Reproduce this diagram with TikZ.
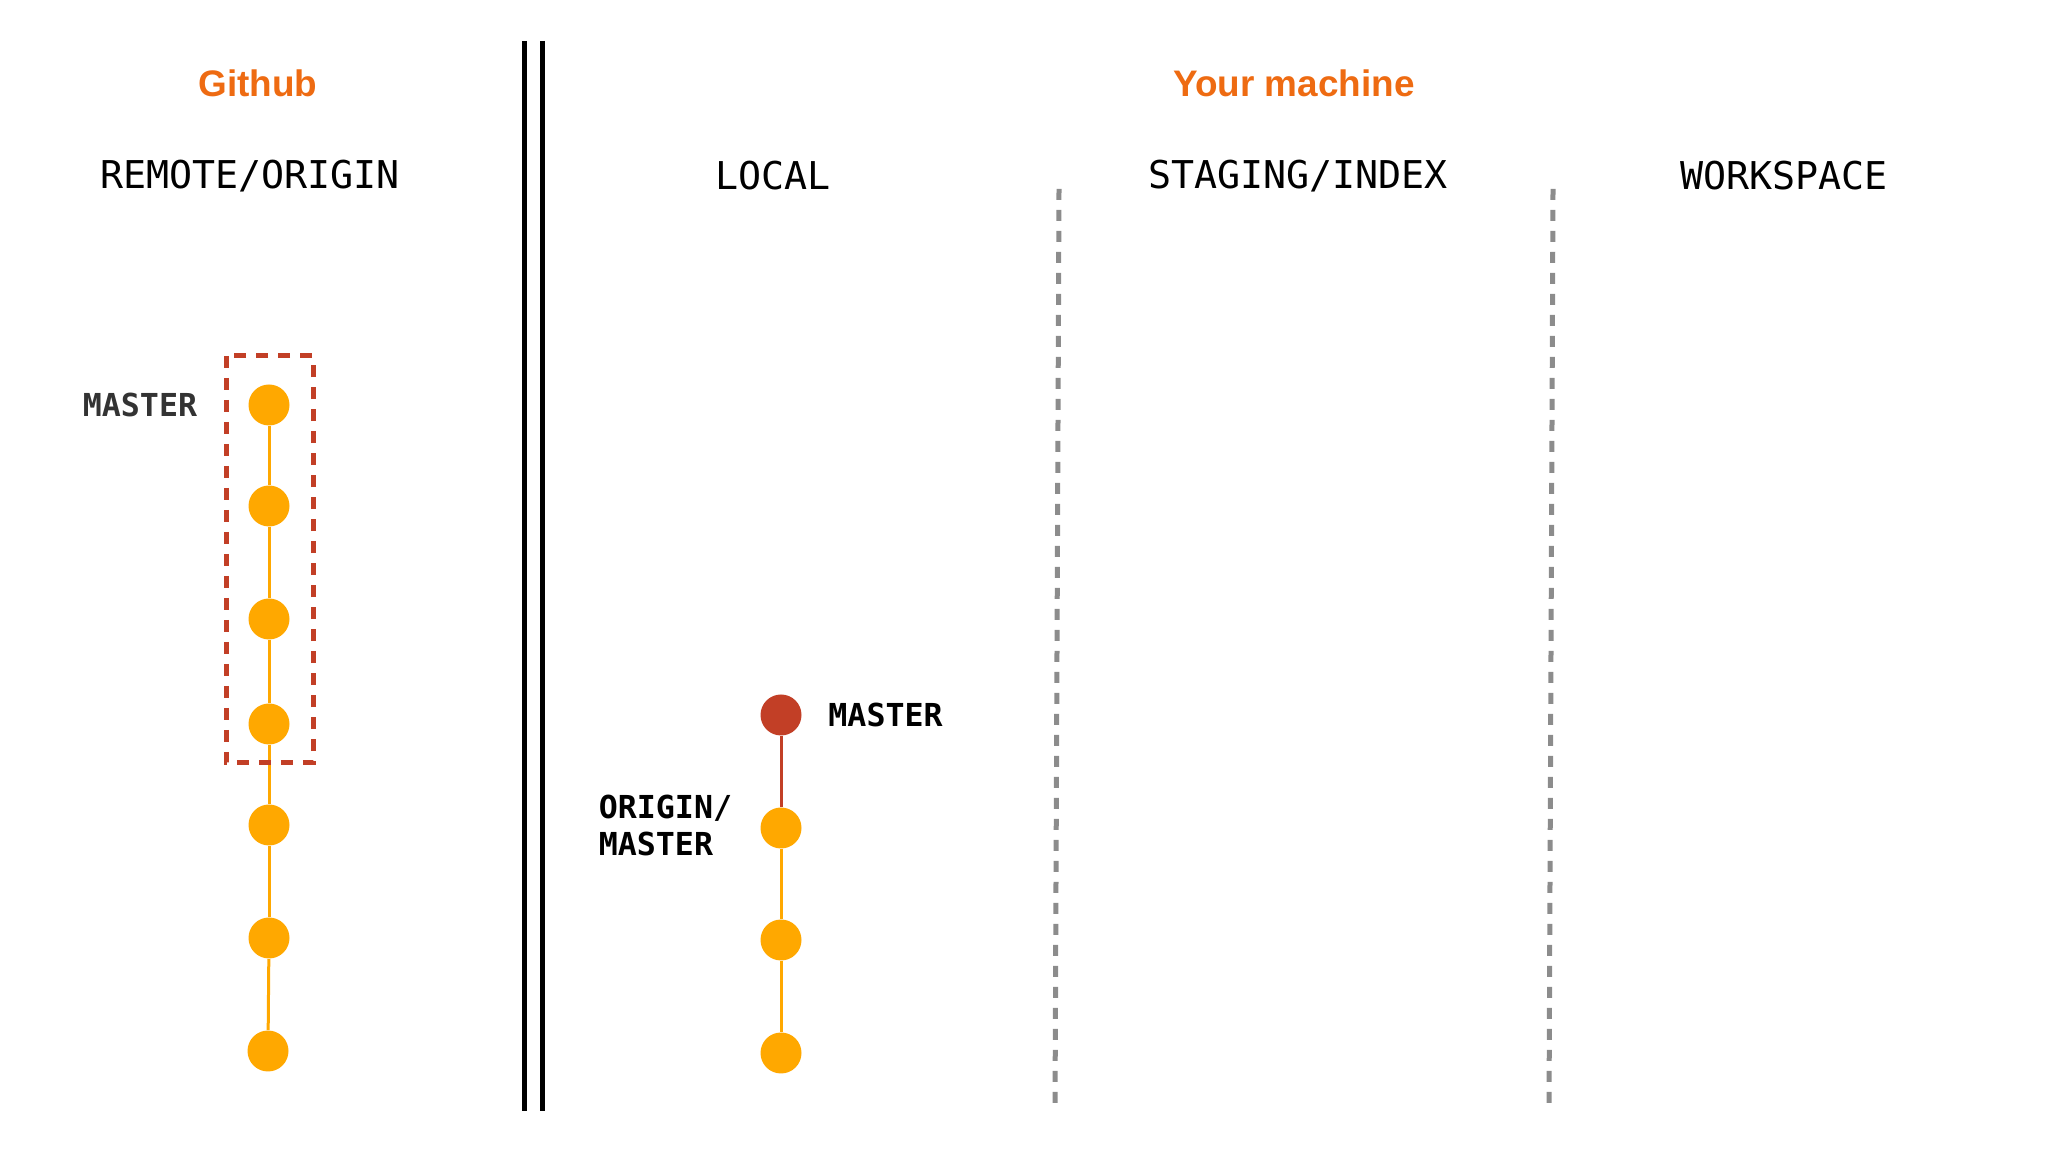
\documentclass[tikz,border=0pt]{standalone}
\usepackage{fontspec}
\setmonofont{DejaVu Sans Mono}
\newfontfamily\headfont{Liberation Sans}
\usepackage{tikz}
\usetikzlibrary{positioning}
\usetikzlibrary{calc}
\usepackage{xcolor}

\definecolor{headorange}{HTML}{EE6B12}
\definecolor{commitorange}{HTML}{FFA800}
\definecolor{brickred}{HTML}{C23F26}
\definecolor{labelgray}{HTML}{333333}
\definecolor{dividergray}{HTML}{8C8C8C}

\begin{document}
\begin{tikzpicture}[
  x=0.1mm, y=-0.1mm,
  side/.style={font=\headfont\fontsize{10.5pt}{12pt}\selectfont\bfseries, text=headorange},
  area/.style={font=\ttfamily\fontsize{10.9pt}{13pt}\selectfont},
  tag/.style={font=\ttfamily\bfseries\fontsize{9pt}{10.8pt}\selectfont, inner sep=0pt},
  commit/.style={circle, fill=commitorange, minimum size=4.1mm, inner sep=0pt},
  newcommit/.style={commit, fill=brickred},
  trunk/.style={commitorange, line width=0.3mm},
  newtrunk/.style={brickred, line width=0.3mm},
  divider/.style={line width=0.5mm},
  lane/.style={dividergray, line width=0.5mm, dash pattern=on 1.1mm off 1mm},
  pushbox/.style={brickred, line width=0.5mm, dash pattern=on 1.2mm off 1mm}
]
\useasboundingbox (0,0) rectangle (2048,1152);

\node[side] (github) at (258,83) {Github};
\node[side] (machine) at (1294,83) {Your machine};

\node[area] (remote) at (250,176) {REMOTE/ORIGIN};
\node[area] (local) at (773,176) {LOCAL};
\node[area] (staging) at (1298,176) {STAGING/INDEX};
\node[area] (workspace) at (1784,176) {WORKSPACE};

\draw[divider] (524,41) -- (524,1111);
\draw[divider] (542,41) -- (542,1111);
\draw[lane] (1059,189) -- (1055,1110);
\draw[lane] (1553,189) -- (1549,1110);

% remote history
\node[commit] (r1) at (269,405) {};
\node[commit] (r2) at (269,506) {};
\node[commit] (r3) at (269,619) {};
\node[commit] (r4) at (269,724) {};
\node[commit] (r5) at (269,825) {};
\node[commit] (r6) at (269,938) {};
\node[commit] (r7) at (268,1051) {};

\draw[trunk] (r1) -- (r2);
\draw[trunk] (r2) -- (r3);
\draw[trunk] (r3) -- (r4);
\draw[trunk] (r4) -- (r5);
\draw[trunk] (r5) -- (r6);
\draw[trunk] (r6) -- (r7);

\draw[pushbox] ($(r1)+(-43,-49)$) rectangle ($(r4)+(44,39)$);
\node[tag, text=labelgray, left=5mm of r1] (remotemaster) {MASTER};

% local history
\node[newcommit] (l0) at (781,715) {};
\node[commit] (l1) at (781,828) {};
\node[commit] (l2) at (781,940) {};
\node[commit] (l3) at (781,1053) {};

\draw[newtrunk] (l0) -- (l1);
\draw[trunk] (l1) -- (l2);
\draw[trunk] (l2) -- (l3);

\node[tag, right=2.55mm of l0] (localmaster) {MASTER};
\node[tag, align=left, left=2.7mm of l1, yshift=0.25mm] (originmaster) {ORIGIN/\\MASTER};

\end{tikzpicture}
\end{document}
